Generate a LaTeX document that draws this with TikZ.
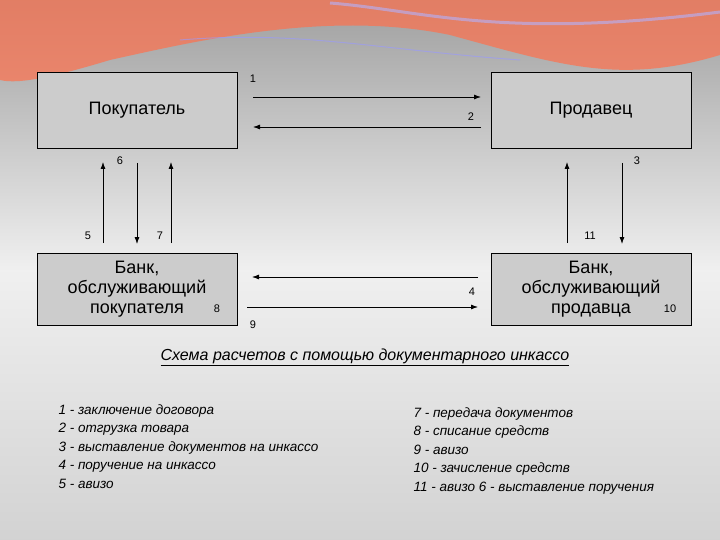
\documentclass[tikz,border=0pt]{standalone}
\usepackage{fontspec}
\setmainfont{Liberation Sans}
\usetikzlibrary{arrows.meta}
\begin{document}
\begin{tikzpicture}[x=1pt,y=-1pt,
  box/.style={draw=black,fill=gray!40!white,minimum width=200pt,minimum height=76pt,inner sep=0pt,font=\fontsize{18}{20}\selectfont,align=center},
  arr/.style={-{Latex[length=7pt,width=5pt]},thick},
  num/.style={font=\fontsize{11}{12}\selectfont},
  leg/.style={font=\fontsize{13.5}{18.5}\selectfont\itshape,align=left,anchor=north west}]
\useasboundingbox (0,0) rectangle (720,540);
\shade[top color=gray!75,bottom color=gray!35,middle color=gray!12] (0,0) rectangle (720,540);
\fill[red!60!orange!70!white,opacity=0.7] (0,0) -- (720,0) -- (720,55) .. controls (620,85) and (560,65) .. (450,35) .. controls (330,10) and (200,40) .. (110,60) .. controls (60,75) and (20,85) .. (0,80) -- cycle;
\draw[white!70!blue,line width=3pt,opacity=0.6] (330,3) .. controls (420,10) and (500,40) .. (720,12);
\draw[white!60!blue,line width=1pt,opacity=0.6] (180,40) .. controls (300,30) and (380,50) .. (520,60);
\node[box] (buy) at (137,110) {\raisebox{4pt}{Покупатель}};
\node[box] (sel) at (591,110) {\raisebox{4pt}{Продавец}};
\node[box,minimum height=72pt] (bb) at (137,289) {Банк,\\обслуживающий\\покупателя};
\node[box,minimum height=72pt] (bs) at (591,289) {Банк,\\обслуживающий\\продавца};
\coordinate (a1) at (253,97); \coordinate (b1) at (481,97);
\coordinate (a2) at (481,127); \coordinate (b2) at (253,127);
\draw[arr] (a1) -- (b1); \draw[arr] (a2) -- (b2);
\coordinate (a4) at (478,277); \coordinate (b4) at (252,277);
\coordinate (a9) at (247,307); \coordinate (b9) at (478,307);
\draw[arr] (a4) -- (b4); \draw[arr] (a9) -- (b9);
\draw[arr] (103,243) coordinate (l1) -- (103,162) coordinate (l2);
\draw[arr] (137,163) coordinate (l3) -- (137,244) coordinate (l4);
\draw[arr] (171,243) coordinate (l5) -- (171,162) coordinate (l6);
\draw[arr] (567,243) coordinate (r1) -- (567,162) coordinate (r2);
\draw[arr] (622,163) coordinate (r3) -- (622,244) coordinate (r4);
\node[num] (n1) at (253,79) {1};
\node[num] (n2) at (471,117) {2};
\node[num] (n6) at (120,161) {6};
\node[num] (n3) at (637,161) {3};
\node[num] (n5) at (88,236) {5};
\node[num] (n7) at (160,236) {7};
\node[num] (n11) at (590,236) {11};
\node[num] (n4) at (472,292) {4};
\node[num] (n8) at (217,309) {8};
\node[num] (n9) at (253,325) {9};
\node[num] (n10) at (670,309) {10};
\node[font=\fontsize{16}{18}\selectfont\itshape] (cap) at (365,357) {\underline{Схема расчетов с помощью документарного инкассо}};
\node[leg] (legl) at (55,401) {1 - заключение договора\\2 - отгрузка товара\\3 - выставление документов на инкассо\\4 - поручение на инкассо\\5 - авизо};
\node[leg] (legr) at (410,404) {7 - передача документов\\8 - списание средств\\9 - авизо\\10 - зачисление средств\\11 - авизо 6 - выставление поручения};
\end{tikzpicture}
\end{document}
